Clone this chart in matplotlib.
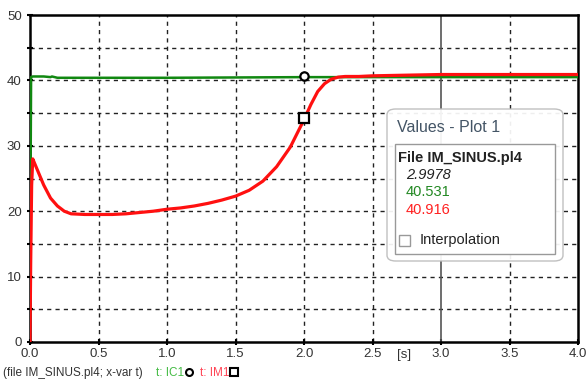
import numpy as np
import matplotlib.pyplot as plt
from matplotlib.patches import FancyBboxPatch, Rectangle
from matplotlib.lines import Line2D

plt.rcParams['font.family'] = ['Liberation Sans', 'DejaVu Sans']

# IC1 (green) and IM1 (red) traces
t_ic1 = [0, 0.003, 0.008, 0.02, 0.1, 0.15, 0.16, 0.2, 1.0, 2.0, 3.0, 4.0]
ic1 = [4, 20, 40.5, 40.6, 40.6, 40.5, 40.6, 40.4, 40.4, 40.5, 40.5, 40.5]

t_im1 = [0, 0.005, 0.012, 0.02, 0.04, 0.07, 0.1, 0.15, 0.2, 0.25, 0.3, 0.4,
         0.5, 0.6, 0.7, 0.8, 0.9, 1.0, 1.1, 1.2, 1.3, 1.4, 1.5, 1.6, 1.7,
         1.8, 1.9, 2.0, 2.05, 2.1, 2.15, 2.2, 2.25, 2.3, 2.4, 2.5, 2.75,
         3.0, 3.5, 4.0]
im1 = [0, 12, 24, 28, 27, 25.5, 24, 22, 20.8, 20, 19.6, 19.5,
       19.5, 19.5, 19.6, 19.8, 20.0, 20.3, 20.5, 20.8, 21.2, 21.7, 22.3, 23.2, 24.6,
       26.8, 29.8, 34, 36.3, 38.3, 39.5, 40.2, 40.5, 40.6, 40.6, 40.7, 40.8,
       40.9, 40.9, 40.9]

marker_t = 2.0
marker_ic1 = 40.6
marker_im1 = 34.2
cursor_t = 3.0
cursor_vals = ["2.9978", "40.531", "40.916"]

x_ticks = [0.0, 0.5, 1.0, 1.5, 2.0, 2.5, 3.0, 3.5, 4.0]
y_ticks = [0, 10, 20, 30, 40, 50]

fig = plt.figure(figsize=(5.87, 3.80), dpi=100)
ax = fig.add_axes([30 / 587, 38 / 380, 548 / 587, 327 / 380])

ax.plot(t_ic1, ic1, color='#118811', lw=1.8, zorder=3)
ax.plot(t_im1, im1, color='#ff1010', lw=2.3, zorder=4)
ax.plot(marker_t, marker_ic1, 'o', mfc='white', mec='black', mew=1.6, ms=6, zorder=5)
ax.plot(marker_t, marker_im1, 's', mfc='white', mec='black', mew=1.6, ms=7, zorder=5)

ax.axvline(cursor_t, color='#555555', lw=1.2, zorder=2)

ax.set_xlim(0, 4)
ax.set_ylim(0, 50)
ax.set_xticks(x_ticks)
ax.set_xticklabels([f"{v:.1f}" for v in x_ticks])
ax.set_yticks(y_ticks)
ax.set_yticks([5, 15, 25, 35, 45], minor=True)

# dashed grid
for xv in np.arange(0.5, 4.0, 0.5):
    if xv != cursor_t:
        ax.axvline(xv, color='#222222', lw=1, ls=(0, (3, 3)), zorder=1)
for yv in np.arange(5, 50, 5):
    ax.axhline(yv, color='#222222', lw=1, ls=(0, (3, 3)), zorder=1)

for s in ax.spines.values():
    s.set_linewidth(1.8)
ax.tick_params(axis='both', which='major', labelsize=9.5, labelcolor='#333333',
               width=1.5, length=5, direction='inout')
ax.tick_params(axis='y', which='minor', width=1.5, length=4, direction='inout')
ax.tick_params(axis='x', pad=2)

fig.text(404 / 587, 1 - 355 / 380, "[s]", fontsize=9.5, color='#333333', ha='center', va='center')

# bottom caption
fig.text(3 / 587, 1 - 373 / 380, "(file IM_SINUS.pl4; x-var t)", fontsize=8.5,
         color='#333333', va='center')
fig.text(156 / 587, 1 - 373 / 380, "t: IC1", fontsize=8.5, color='#44bb44', va='center')
fig.text(200 / 587, 1 - 373 / 380, "t: IM1", fontsize=8.5, color='#ff4455', va='center')
fig.add_artist(Line2D([189 / 587], [1 - 372 / 380], marker='o', mfc='white', mec='black',
                      mew=1.5, ms=5))
fig.add_artist(Line2D([234 / 587], [1 - 372 / 380], marker='s', mfc='white', mec='black',
                      mew=1.5, ms=6))

# value box
bx, by, bw, bh = 387, 109, 176, 152
fig.patches.append(FancyBboxPatch((bx / 587, 1 - (by + bh) / 380), bw / 587, bh / 380,
                                  boxstyle="round,pad=0,rounding_size=0.015",
                                  transform=fig.transFigure, fc='white', ec='#bbbbbb',
                                  lw=1.0, alpha=0.93, zorder=10))
fig.patches.append(Rectangle((395 / 587, 1 - 254 / 380), 160 / 587, 110 / 380,
                             transform=fig.transFigure, fc='white', ec='#999999',
                             lw=1.0, zorder=11))
fig.patches.append(Rectangle((399 / 587, 1 - 246 / 380), 11 / 587, 11 / 380,
                             transform=fig.transFigure, fc='white', ec='#999999',
                             lw=1.0, zorder=12))
fig.text(397 / 587, 1 - 127 / 380, "Values - Plot 1", fontsize=11.5, color='#445566',
         va='center', zorder=12)
fig.text(398 / 587, 1 - 158 / 380, "File IM_SINUS.pl4", fontsize=10.5, weight='bold',
         color='#222222', va='center', zorder=12)
fig.text(406 / 587, 1 - 175 / 380, cursor_vals[0], fontsize=10.5, style='italic',
         color='#222222', va='center', zorder=12)
fig.text(406 / 587, 1 - 192 / 380, cursor_vals[1], fontsize=10.5, color='#228822',
         va='center', zorder=12)
fig.text(406 / 587, 1 - 210 / 380, cursor_vals[2], fontsize=10.5, color='#ff2020',
         va='center', zorder=12)
fig.text(420 / 587, 1 - 240 / 380, "Interpolation", fontsize=10.5, color='#222222',
         va='center', zorder=12)

fig.savefig("out.png", dpi=100)
